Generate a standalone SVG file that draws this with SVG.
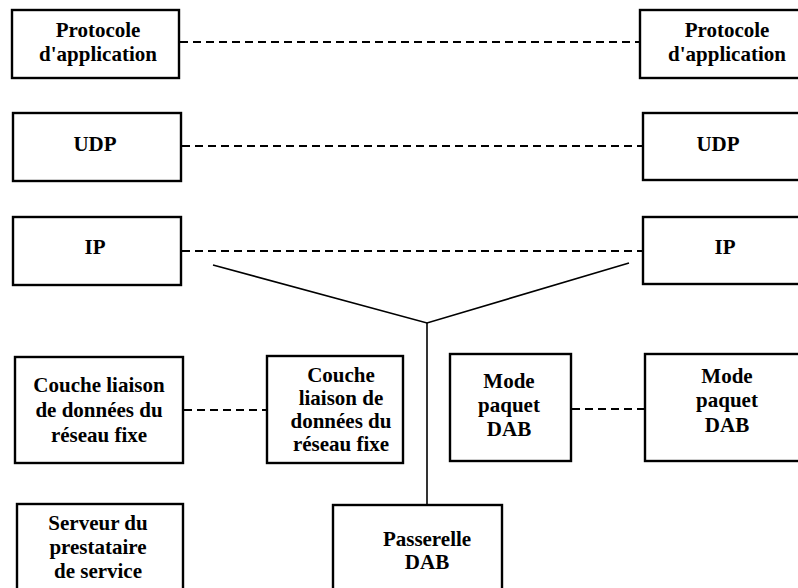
<svg xmlns="http://www.w3.org/2000/svg" width="798" height="588" viewBox="0 0 798 588">
  <style>
    .box { fill: #fff; stroke: #000; stroke-width: 2.4; }
    .lbl { font-family: "Liberation Serif", "Times New Roman", serif; font-weight: bold; font-size: 21px; text-anchor: middle; fill: #000; }
    .dash { stroke: #000; stroke-width: 2; stroke-dasharray: 8 5; fill: none; }
    .wire { stroke: #000; stroke-width: 1.6; fill: none; }
  </style>
  <rect width="798" height="588" fill="#fff"/>

  <!-- peer links and gateway wiring -->
  <g id="connectors">
    <line class="dash" x1="180" y1="42" x2="640" y2="42"/>
    <line class="dash" x1="182" y1="146" x2="643" y2="146"/>
    <line class="dash" x1="182" y1="251" x2="643" y2="251"/>
    <line class="dash" x1="184" y1="410" x2="267" y2="410"/>
    <line class="dash" x1="572" y1="409" x2="645" y2="409"/>
    <polyline class="wire" points="213,265 427,323 629,263"/>
    <line class="wire" x1="427" y1="323" x2="427" y2="504"/>
  </g>

  <!-- left stack (service provider) -->
  <g id="app-left">
    <rect class="box" x="12" y="10" width="167" height="68"/>
    <text class="lbl" x="98" y="37">Protocole</text>
    <text class="lbl" x="98" y="61">d'application</text>
  </g>
  <g id="udp-left">
    <rect class="box" x="13" y="113" width="168" height="68"/>
    <text class="lbl" x="95" y="151">UDP</text>
  </g>
  <g id="ip-left">
    <rect class="box" x="13" y="217" width="168" height="68"/>
    <text class="lbl" x="95" y="254">IP</text>
  </g>
  <g id="link-left">
    <rect class="box" x="15" y="357" width="168" height="106"/>
    <text class="lbl" x="99" y="392">Couche liaison</text>
    <text class="lbl" x="99" y="417">de données du</text>
    <text class="lbl" x="99" y="442">réseau fixe</text>
  </g>
  <g id="server">
    <rect class="box" x="17" y="504" width="166" height="110"/>
    <text class="lbl" x="98" y="530">Serveur du</text>
    <text class="lbl" x="98" y="554">prestataire</text>
    <text class="lbl" x="98" y="578">de service</text>
  </g>

  <!-- gateway stack -->
  <g id="link-gw">
    <rect class="box" x="267" y="356" width="136" height="107"/>
    <text class="lbl" x="341" y="382">Couche</text>
    <text class="lbl" x="341" y="405">liaison de</text>
    <text class="lbl" x="341" y="428">données du</text>
    <text class="lbl" x="341" y="451">réseau fixe</text>
  </g>
  <g id="packet-gw">
    <rect class="box" x="450" y="354" width="121" height="107"/>
    <text class="lbl" x="509" y="388">Mode</text>
    <text class="lbl" x="509" y="412">paquet</text>
    <text class="lbl" x="509" y="436">DAB</text>
  </g>
  <g id="gateway">
    <rect class="box" x="333" y="505" width="169" height="110"/>
    <text class="lbl" x="427" y="546">Passerelle</text>
    <text class="lbl" x="427" y="569">DAB</text>
  </g>

  <!-- right stack (receiver) -->
  <g id="app-right">
    <rect class="box" x="640" y="10" width="172" height="68"/>
    <text class="lbl" x="727" y="37">Protocole</text>
    <text class="lbl" x="727" y="61">d'application</text>
  </g>
  <g id="udp-right">
    <rect class="box" x="643" y="113" width="169" height="67"/>
    <text class="lbl" x="718" y="151">UDP</text>
  </g>
  <g id="ip-right">
    <rect class="box" x="643" y="217" width="169" height="67"/>
    <text class="lbl" x="725" y="254">IP</text>
  </g>
  <g id="packet-right">
    <rect class="box" x="645" y="354" width="167" height="107"/>
    <text class="lbl" x="727" y="383">Mode</text>
    <text class="lbl" x="727" y="407">paquet</text>
    <text class="lbl" x="727" y="432">DAB</text>
  </g>
</svg>
